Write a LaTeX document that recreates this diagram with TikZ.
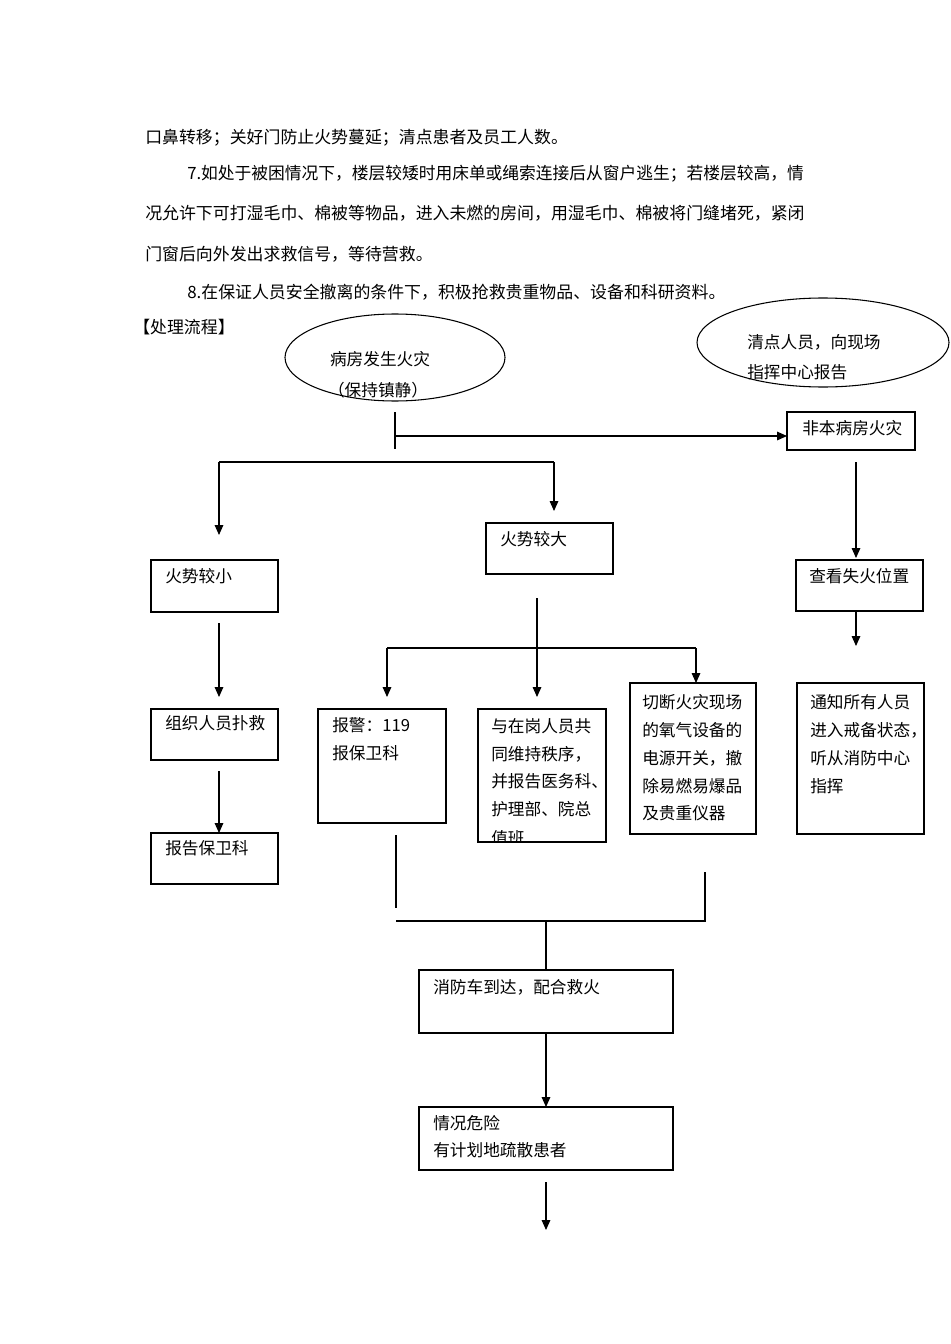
\documentclass[tikz,border=0pt]{standalone}
\usepackage{fontspec}
\setmainfont{Noto Sans CJK SC}
\usetikzlibrary{arrows.meta}
\begin{document}
\begin{tikzpicture}[x=0.75pt,y=-0.75pt,
  body/.style={anchor=base west,inner sep=0pt,font=\fontsize{12.68pt}{15pt}\selectfont},
  ftext/.style={anchor=base west,inner sep=0pt,font=\fontsize{12.5pt}{15pt}\selectfont},
  ctext/.style={anchor=base,inner sep=0pt,font=\fontsize{12.5pt}{15pt}\selectfont},
  oval/.style={draw,line width=0.8pt},
  box/.style 2 args={draw,line width=0.9pt,inner sep=0pt,outer sep=0pt,anchor=north west,
     minimum width={#1*0.75pt},minimum height={#2*0.75pt}},
  conn/.style={line width=0.8pt},
  arr/.style={conn,-{Triangle[width=6.5pt,length=7.5pt]}}]
\useasboundingbox[fill=white] (0,0) rectangle (950,1344);

% body text
\node[body] (l1) at (145,143.5) {口鼻转移；关好门防止火势蔓延；清点患者及员工人数。};
\node[body,transform shape,xscale=0.99] (l2) at (187,179.5) {7.如处于被困情况下，楼层较矮时用床单或绳索连接后从窗户逃生；若楼层较高，情};
\node[body] (l3) at (145,219.5) {况允许下可打湿毛巾、棉被等物品，进入未燃的房间，用湿毛巾、棉被将门缝堵死，紧闭};
\node[body] (l4) at (145,260.5) {门窗后向外发出求救信号，等待营救。};
\node[body] (l5) at (187,298.5) {8.在保证人员安全撤离的条件下，积极抢救贵重物品、设备和科研资料。};
\node[body] (l6) at (133,333.5) {【处理流程】};

% ellipses
\draw[oval] (395,357.5) ellipse [x radius=110, y radius=43.5];
\node[ctext] (e1a) at (380,365) {病房发生火灾};
\node[ctext] (e1b) at (378,396) {（保持镇静）};
\draw[oval] (823,342.5) ellipse [x radius=126, y radius=44.5];
\node[ftext] (e2a) at (747,348) {清点人员，向现场};
\node[ftext] (e2b) at (747,378) {指挥中心报告};

% boxes
\node[box={128}{38}] (fb) at (787,412) {};
\node[ftext] at (802,434) {非本病房火灾};
\node[box={127}{52}] (small) at (151,560) {};
\node[ftext] at (165,582) {火势较小};
\node[box={127}{51}] (big) at (486,523) {};
\node[ftext] at (500,545) {火势较大};
\node[box={127}{51}] (look) at (796,560) {};
\node[ftext] at (809,582) {查看失火位置};
\node[box={127}{51}] (org) at (151,709) {};
\node[ftext] at (165,729) {组织人员扑救};
\node[box={127}{51}] (rep) at (151,833) {};
\node[ftext] at (165,854) {报告保卫科};
\node[box={128}{114}] (alarm) at (318,709) {};
\node[ftext] at (332,731) {报警：119};
\node[ftext] at (332,759) {报保卫科};
\node[box={128}{133}] (keep) at (478,709) {};
\node[ftext] at (491,732) {与在岗人员共};
\node[ftext] at (491,760) {同维持秩序，};
\node[ftext] at (491,787) {并报告医务科、};
\node[ftext] at (491,815) {护理部、院总};
\begin{scope}
\clip (478,709) rectangle (606,841);
\node[ftext] at (491,844) {值班};
\end{scope}
\node[box={126}{151}] (cut) at (630,683) {};
\node[ftext] at (642,708) {切断火灾现场};
\node[ftext] at (642,736) {的氧气设备的};
\node[ftext] at (642,764) {电源开关，撤};
\node[ftext] at (642,792) {除易燃易爆品};
\node[ftext] at (642,819) {及贵重仪器};
\node[box={127}{151}] (notify) at (797,683) {};
\node[ftext] at (810,708) {通知所有人员};
\node[ftext] at (810,736) {进入戒备状态，};
\node[ftext] at (810,764) {听从消防中心};
\node[ftext] at (810,792) {指挥};
\node[box={254}{63}] (truck) at (419,970) {};
\node[ftext] at (433,993) {消防车到达，配合救火};
\node[box={254}{63}] (danger) at (419,1107) {};
\node[ftext] at (433,1129) {情况危险};
\node[ftext] at (433,1156) {有计划地疏散患者};

% coordinates
\coordinate (a1) at (395,412);
\coordinate (a2) at (395,449);
\coordinate (a3) at (395,436);
\coordinate (h1) at (219,462);
\coordinate (h2) at (554,462);
\coordinate (t1) at (219,535);
\coordinate (t2) at (554,511);
\coordinate (r1) at (856,462);
\coordinate (r2) at (856,558);
\coordinate (r3) at (856,646);
\coordinate (s1) at (219,623);
\coordinate (s2) at (219,697);
\coordinate (s3) at (219,771);
\coordinate (s4) at (219,833);
\coordinate (b1) at (537,598);
\coordinate (b2) at (537,697);
\coordinate (m1) at (387,648);
\coordinate (m2) at (696,648);
\coordinate (m3) at (387,697);
\coordinate (m4) at (696,683);
\coordinate (u1) at (396,835);
\coordinate (u2) at (396,908);
\coordinate (u3) at (705,872);
\coordinate (u4) at (705,921);
\coordinate (u5) at (396,921);
\coordinate (u6) at (546,921);
\coordinate (d1) at (546,1182);
\coordinate (d2) at (546,1230);

% connectors
\draw[conn] (a1) -- (a2);
\draw[arr] (a3) -- (a3 -| fb.west);
\draw[conn] (h1) -- (h2);
\draw[arr] (h1) -- (t1);
\draw[arr] (h2) -- (t2);
\draw[arr] (r1) -- (r2);
\draw[arr] (look.south -| r1) -- (r3);
\draw[arr] (s1) -- (s2);
\draw[arr] (s3) -- (s4);
\draw[arr] (b1) -- (b2);
\draw[conn] (m1) -- (m2);
\draw[arr] (m1) -- (m3);
\draw[arr] (m2) -- (m4);
\draw[conn] (u1) -- (u2);
\draw[conn] (u3) -- (u4) -- (u5);
\draw[conn] (u6) -- (u6 |- truck.north);
\draw[arr] (truck.south -| u6) -- (u6 |- danger.north);
\draw[arr] (d1) -- (d2);
\end{tikzpicture}
\end{document}
